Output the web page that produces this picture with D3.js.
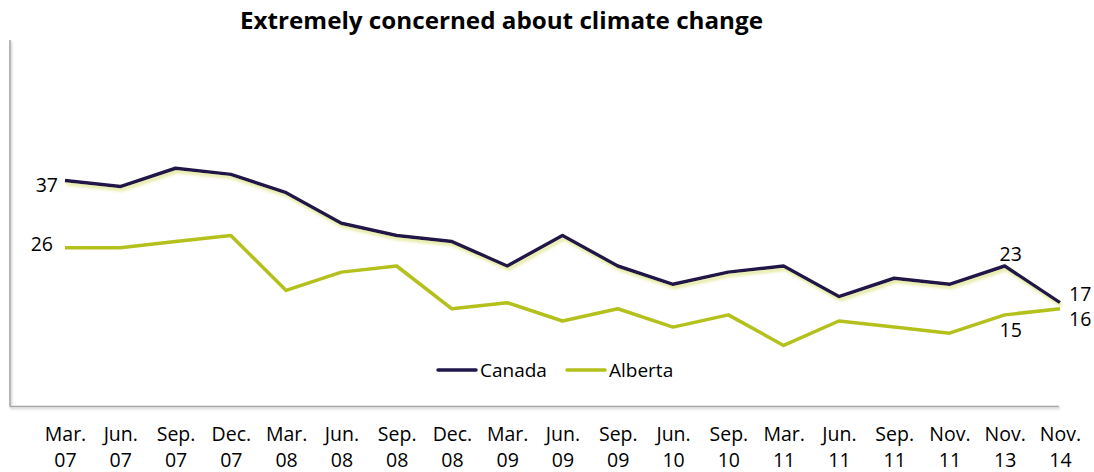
<!DOCTYPE html>
<html>
<head>
<meta charset="utf-8">
<script src="https://cdn.jsdelivr.net/npm/d3@7"></script>
<style>
  html, body { margin: 0; padding: 0; background: #fff; }
  svg { display: block; font-family: "Open Sans", Lato, sans-serif; }
</style>
</head>
<body>
<svg id="chart" width="1094" height="472"></svg>
<script>
const categories = ["Mar. 07","Jun. 07","Sep. 07","Dec. 07","Mar. 08","Jun. 08","Sep. 08","Dec. 08","Mar. 09","Jun. 09","Sep. 09","Jun. 10","Sep. 10","Mar. 11","Jun. 11","Sep. 11","Nov. 11","Nov. 13","Nov. 14"];
const canada  = [37,36,39,38,35,30,28,27,23,28,23,20,22,23,18,21,20,23,17];
const alberta = [26,26,27,28,19,22,23,16,17,14,16,13,15,10,14,13,12,15,16];
const seriesNames = ["Canada","Alberta"];
const seriesColors = ["#20174a","#b4c01c"];
const title = "Extremely concerned about climate change";
const yDomain = [0, 60];

const svg = d3.select("#chart");
const defs = svg.append("defs");
const glow = defs.append("filter").attr("id","glow")
  .attr("x","-5%").attr("y","-20%").attr("width","110%").attr("height","160%");
glow.append("feDropShadow").attr("dx",1.5).attr("dy",3).attr("stdDeviation",1.8)
  .attr("flood-color","#cdd64e").attr("flood-opacity",0.55);
const axShadow = defs.append("filter").attr("id","axshadow")
  .attr("x","-5%").attr("y","-50%").attr("width","110%").attr("height","300%");
axShadow.append("feDropShadow").attr("dx",1).attr("dy",1.5).attr("stdDeviation",1)
  .attr("flood-color","#000").attr("flood-opacity",0.25);

const x = d3.scalePoint().domain(categories).range([65, 1060]);
const y = d3.scaleLinear().domain(yDomain).range([406.5, 40]);

// Title
svg.append("text").attr("x", 240).attr("y", 28.5)
  .attr("textLength", 523).attr("lengthAdjust","spacingAndGlyphs")
  .attr("font-size", 22.5).attr("font-weight", 700).attr("fill","#000").text(title);

// Frame axes (left + bottom)
const frame = svg.append("g").attr("filter","url(#axshadow)");
frame.append("line").attr("x1",10).attr("x2",10).attr("y1",y(60)).attr("y2",y(0))
  .attr("stroke","#a6a6a6").attr("stroke-width",1.5);
frame.append("line").attr("x1",10).attr("x2",1059).attr("y1",y(0)).attr("y2",y(0))
  .attr("stroke","#a6a6a6").attr("stroke-width",1.5);

// X category labels (two lines)
const xAxis = d3.axisBottom(x).tickSize(0).tickFormat("");
const gx = svg.append("g").attr("transform",`translate(0,${y(0)})`).call(xAxis);
gx.select(".domain").remove();
gx.selectAll(".tick").each(function(d){
  const parts = d.split(" ");
  const t = d3.select(this).append("text").attr("text-anchor","middle")
    .attr("fill","#000").attr("font-size",19.5).attr("font-family","'Open Sans', Lato, sans-serif");
  t.append("tspan").attr("x",0).attr("y",34).text(parts[0]);
  t.append("tspan").attr("x",0).attr("y",60.5).text(parts[1]);
});

// Lines
const line = d3.line().x((d,i)=>x(categories[i])).y(d=>y(d));
svg.append("path").datum(alberta).attr("d",line).attr("fill","none")
  .attr("stroke",seriesColors[1]).attr("stroke-width",3.5).attr("stroke-linejoin","round");
svg.append("path").datum(canada).attr("d",line).attr("fill","none")
  .attr("stroke",seriesColors[0]).attr("stroke-width",3.5).attr("stroke-linejoin","round")
  .attr("filter","url(#glow)");

// Data labels
const n = categories.length;
const lab = (xv, yv, txt, anchor) => svg.append("text").attr("x",xv).attr("y",yv)
  .attr("text-anchor",anchor).attr("dominant-baseline","central")
  .attr("font-size",19.5).attr("fill","#000").text(txt);
lab(x(categories[0]) - 7, y(canada[0]) + 4, canada[0], "end");
lab(x(categories[0]) - 12, y(alberta[0]) - 4, alberta[0], "end");
lab(x(categories[n-2]) + 6, y(canada[n-2]) - 13, canada[n-2], "middle");
lab(x(categories[n-2]) + 6, y(alberta[n-2]) + 15, alberta[n-2], "middle");
lab(x(categories[n-1]) + 9, y(canada[n-1]) - 9.5, canada[n-1], "start");
lab(x(categories[n-1]) + 9, y(alberta[n-1]) + 10, alberta[n-1], "start");

// Legend
const legendX = [438, 567];
seriesNames.forEach((name, i) => {
  const g = svg.append("g").attr("transform",`translate(${legendX[i]},370)`);
  g.append("line").attr("x1",0).attr("x2",38).attr("y1",0).attr("y2",0)
    .attr("stroke",seriesColors[i]).attr("stroke-width",3.5).attr("stroke-linecap","round");
  g.append("text").attr("x",42).attr("y",0).attr("dominant-baseline","central")
    .attr("font-size",19).attr("fill","#000").text(name);
});
</script>
</body>
</html>
